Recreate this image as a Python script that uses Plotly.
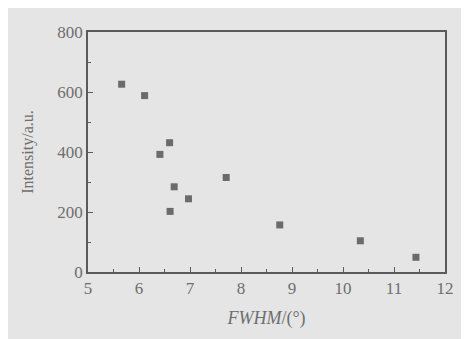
import plotly.graph_objects as go

fwhm = [5.66, 6.11, 6.60, 6.41, 6.69, 6.97, 6.61, 7.71, 8.76, 10.34, 11.43]
intensity = [626, 588, 431, 392, 284, 244, 202, 315, 157, 104, 49]

x_ticks = [5, 6, 7, 8, 9, 10, 11, 12]
y_ticks = [0, 200, 400, 600, 800]

W, H = 469, 339
L, R, T, B = 80, 32, 24, 75

axis_col = "#5a5a5a"
text_col = "#6e6e6e"
font_fam = "Liberation Serif, Times New Roman, serif"

fig = go.Figure()
fig.add_trace(go.Scatter(
    x=fwhm, y=intensity, mode="markers",
    marker=dict(symbol="square", size=7, color="#6b6b6b", line=dict(width=0)),
    showlegend=False,
))

fig.update_layout(
    width=W, height=H,
    margin=dict(l=L, r=R, t=T, b=B),
    paper_bgcolor="#e5e5e5",
    plot_bgcolor="#e5e5e5",
    font=dict(family=font_fam, color=text_col, size=17),
    xaxis=dict(
        range=[5, 12], tickvals=x_ticks, ticktext=[str(v) for v in x_ticks],
        showgrid=False, zeroline=False,
        showline=True, linecolor=axis_col, linewidth=1.5, mirror=True,
        ticks="inside", ticklen=5, tickcolor=axis_col, tickwidth=1,
        minor=dict(ticks="inside", dtick=0.5, ticklen=3, tickcolor=axis_col, showgrid=False),
        tickfont=dict(size=17, color=text_col),
        title=dict(text="<i>FWHM</i>/(°)", font=dict(size=18, color=text_col), standoff=14),
    ),
    yaxis=dict(
        range=[0, 800], tickvals=y_ticks, ticktext=[str(v) for v in y_ticks],
        showgrid=False, zeroline=False,
        showline=True, linecolor=axis_col, linewidth=1.5, mirror=True,
        ticks="inside", ticklen=5, tickcolor=axis_col, tickwidth=1,
        minor=dict(ticks="inside", dtick=100, ticklen=3, tickcolor=axis_col, showgrid=False),
        tickfont=dict(size=17, color=text_col),
        title=dict(text="Intensity/a.u.", font=dict(size=16, color=text_col), standoff=20),
    ),
)

fig.write_html("out.html")
